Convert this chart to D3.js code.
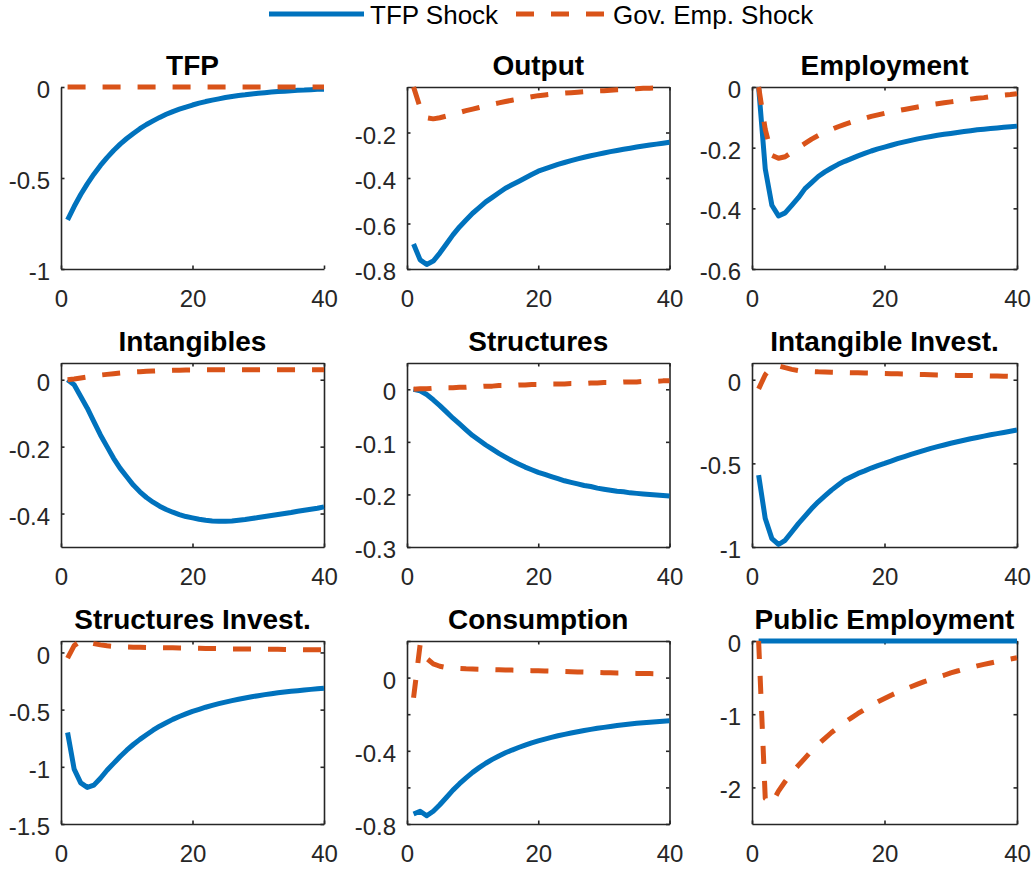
<!DOCTYPE html>
<html>
<head>
<meta charset="utf-8">
<script src="https://cdn.jsdelivr.net/npm/d3@7"></script>
<style>
    html, body { margin: 0; padding: 0; background: #fff; }
    svg { display: block; }
</style>
</head>
<body>
<div id="chart"></div>
<script>
;(function () {
    "use strict";

    // horizon (quarters)
    var periods = [1, 2, 3, 4, 5, 6, 7, 8, 9, 10, 11, 12, 13, 14, 15, 16, 17, 18, 19, 20,
                   21, 22, 23, 24, 25, 26, 27, 28, 29, 30, 31, 32, 33, 34, 35, 36, 37, 38, 39, 40];
    var xTicks = [0, 20, 40];
    var seriesNames = ["TFP Shock", "Gov. Emp. Shock"];
    var panelTitles = ["TFP", "Output", "Employment", "Intangibles", "Structures",
                       "Intangible Invest.", "Structures Invest.", "Consumption", "Public Employment"];

    // TFP shock responses
    var tfpTFP = [-0.73, -0.657, -0.591, -0.532, -0.479, -0.431, -0.388, -0.349, -0.314, -0.283, -0.255, -0.229, -0.206, -0.186, -0.167, -0.15, -0.135, -0.122, -0.11, -0.099,
                  -0.089, -0.08, -0.072, -0.065, -0.058, -0.052, -0.047, -0.043, -0.038, -0.034, -0.031, -0.028, -0.025, -0.023, -0.02, -0.018, -0.017, -0.015, -0.013, -0.012];
    var tfpOutput = [-0.69, -0.76, -0.78, -0.765, -0.73, -0.69, -0.65, -0.615, -0.585, -0.555, -0.53, -0.505, -0.485, -0.465, -0.445, -0.43, -0.415, -0.4, -0.385, -0.37,
                     -0.36, -0.35, -0.34, -0.332, -0.324, -0.316, -0.309, -0.302, -0.296, -0.29, -0.284, -0.279, -0.274, -0.269, -0.264, -0.259, -0.255, -0.251, -0.247, -0.243];
    var tfpEmployment = [0, -0.27, -0.39, -0.425, -0.415, -0.39, -0.365, -0.335, -0.315, -0.295, -0.28, -0.267, -0.255, -0.245, -0.236, -0.227, -0.219, -0.211, -0.204, -0.198,
                         -0.192, -0.186, -0.181, -0.176, -0.171, -0.167, -0.163, -0.159, -0.156, -0.153, -0.15, -0.147, -0.144, -0.141, -0.139, -0.137, -0.135, -0.133, -0.131, -0.129];
    var tfpIntangibles = [0, -0.015, -0.05, -0.085, -0.125, -0.165, -0.2, -0.235, -0.265, -0.29, -0.315, -0.335, -0.352, -0.366, -0.378, -0.388, -0.396, -0.403, -0.409, -0.413,
                          -0.417, -0.42, -0.422, -0.423, -0.423, -0.422, -0.42, -0.418, -0.415, -0.412, -0.409, -0.406, -0.403, -0.4, -0.397, -0.393, -0.39, -0.387, -0.384, -0.38];
    var tfpStructures = [0, -0.003, -0.01, -0.02, -0.031, -0.043, -0.055, -0.066, -0.077, -0.088, -0.097, -0.106, -0.114, -0.122, -0.129, -0.136, -0.142, -0.148, -0.153, -0.158,
                         -0.162, -0.166, -0.17, -0.174, -0.177, -0.18, -0.183, -0.185, -0.188, -0.19, -0.192, -0.194, -0.195, -0.197, -0.198, -0.199, -0.2, -0.201, -0.202, -0.203];
    var tfpIntInvest = [-0.57, -0.83, -0.95, -0.985, -0.96, -0.91, -0.86, -0.815, -0.77, -0.73, -0.695, -0.66, -0.63, -0.6, -0.58, -0.56, -0.545, -0.528, -0.513, -0.5,
                        -0.486, -0.472, -0.459, -0.446, -0.434, -0.422, -0.41, -0.4, -0.39, -0.38, -0.371, -0.362, -0.353, -0.345, -0.337, -0.329, -0.322, -0.315, -0.308, -0.301];
    var tfpStrInvest = [-0.7, -1.02, -1.14, -1.18, -1.16, -1.1, -1.03, -0.97, -0.91, -0.855, -0.805, -0.76, -0.72, -0.68, -0.645, -0.615, -0.585, -0.56, -0.537, -0.515,
                        -0.497, -0.479, -0.463, -0.448, -0.434, -0.421, -0.409, -0.398, -0.388, -0.378, -0.369, -0.361, -0.353, -0.346, -0.34, -0.334, -0.328, -0.323, -0.318, -0.313];
    var tfpConsumption = [-0.745, -0.73, -0.755, -0.73, -0.695, -0.655, -0.615, -0.58, -0.548, -0.518, -0.492, -0.468, -0.447, -0.428, -0.411, -0.396, -0.382, -0.369, -0.357, -0.346,
                          -0.336, -0.327, -0.318, -0.31, -0.303, -0.296, -0.289, -0.283, -0.277, -0.272, -0.267, -0.262, -0.258, -0.254, -0.25, -0.247, -0.244, -0.241, -0.238, -0.236];
    var tfpPublicEmp = [0, 0, 0, 0, 0, 0, 0, 0, 0, 0, 0, 0, 0, 0, 0, 0, 0, 0, 0, 0,
                        0, 0, 0, 0, 0, 0, 0, 0, 0, 0, 0, 0, 0, 0, 0, 0, 0, 0, 0, 0];

    // government employment shock responses
    var govTFP = [0, 0, 0, 0, 0, 0, 0, 0, 0, 0, 0, 0, 0, 0, 0, 0, 0, 0, 0, 0,
                  0, 0, 0, 0, 0, 0, 0, 0, 0, 0, 0, 0, 0, 0, 0, 0, 0, 0, 0, 0];
    var govOutput = [0, -0.09, -0.135, -0.14, -0.135, -0.128, -0.12, -0.112, -0.104, -0.097, -0.09, -0.083, -0.076, -0.07, -0.064, -0.058, -0.053, -0.048, -0.043, -0.038,
                     -0.035, -0.032, -0.029, -0.027, -0.025, -0.023, -0.021, -0.019, -0.017, -0.016, -0.014, -0.012, -0.011, -0.009, -0.008, -0.006, -0.005, -0.004, -0.002, -0.001];
    var govEmployment = [0, -0.14, -0.225, -0.235, -0.23, -0.215, -0.2, -0.186, -0.172, -0.16, -0.15, -0.14, -0.131, -0.123, -0.116, -0.109, -0.103, -0.097, -0.092, -0.087,
                         -0.082, -0.078, -0.074, -0.07, -0.066, -0.062, -0.058, -0.055, -0.052, -0.049, -0.046, -0.043, -0.04, -0.037, -0.035, -0.032, -0.03, -0.027, -0.025, -0.022];
    var govIntangibles = [0, 0.002, 0.005, 0.008, 0.011, 0.014, 0.016, 0.018, 0.02, 0.021, 0.023, 0.024, 0.025, 0.026, 0.027, 0.027, 0.028, 0.028, 0.029, 0.029,
                          0.029, 0.03, 0.03, 0.03, 0.03, 0.03, 0.03, 0.03, 0.03, 0.03, 0.03, 0.03, 0.03, 0.03, 0.03, 0.03, 0.03, 0.03, 0.03, 0.03];
    var govStructures = [0, 0.001, 0.001, 0.002, 0.002, 0.003, 0.003, 0.004, 0.004, 0.005, 0.005, 0.006, 0.006, 0.007, 0.007, 0.007, 0.008, 0.008, 0.009, 0.009,
                         0.009, 0.01, 0.01, 0.01, 0.011, 0.011, 0.011, 0.012, 0.012, 0.013, 0.013, 0.013, 0.014, 0.014, 0.014, 0.015, 0.015, 0.015, 0.016, 0.016];
    var govIntInvest = [-0.055, 0.03, 0.08, 0.083, 0.072, 0.062, 0.055, 0.051, 0.049, 0.047, 0.046, 0.045, 0.044, 0.043, 0.042, 0.041, 0.04, 0.039, 0.038, 0.037,
                        0.036, 0.035, 0.034, 0.033, 0.032, 0.031, 0.03, 0.029, 0.028, 0.027, 0.026, 0.025, 0.025, 0.024, 0.023, 0.022, 0.022, 0.021, 0.02, 0.02];
    var govStrInvest = [-0.05, 0.06, 0.1, 0.09, 0.077, 0.066, 0.058, 0.053, 0.05, 0.048, 0.046, 0.045, 0.044, 0.043, 0.042, 0.041, 0.04, 0.039, 0.038, 0.037,
                        0.036, 0.035, 0.034, 0.033, 0.032, 0.031, 0.031, 0.03, 0.029, 0.029, 0.028, 0.027, 0.027, 0.026, 0.025, 0.025, 0.024, 0.024, 0.023, 0.023];
    var govConsumption = [-0.11, 0.18, 0.105, 0.075, 0.062, 0.055, 0.052, 0.05, 0.048, 0.047, 0.046, 0.045, 0.044, 0.043, 0.042, 0.041, 0.04, 0.039, 0.038, 0.037,
                          0.036, 0.035, 0.034, 0.033, 0.032, 0.031, 0.03, 0.029, 0.028, 0.027, 0.026, 0.025, 0.025, 0.024, 0.023, 0.022, 0.022, 0.021, 0.021, 0.02];
    var govPublicEmp = [0, -2.15, -2.22, -2.05, -1.92, -1.8, -1.7, -1.6, -1.5, -1.41, -1.33, -1.25, -1.18, -1.11, -1.05, -0.99, -0.935, -0.88, -0.83, -0.785,
                        -0.74, -0.7, -0.66, -0.625, -0.59, -0.555, -0.525, -0.495, -0.468, -0.435, -0.41, -0.385, -0.362, -0.34, -0.32, -0.3, -0.281, -0.263, -0.246, -0.23];

    // y axis limits, tick marks and labelled ticks per panel
    var yLimits = [[-1, 0], [-0.8, 0], [-0.6, 0], [-0.5, 0.05], [-0.3, 0.05], [-1, 0.1], [-1.5, 0.1], [-0.8, 0.2], [-2.5, 0]];
    var yTicks = [[-1, -0.5, 0], [-0.8, -0.6, -0.4, -0.2], [-0.6, -0.4, -0.2, 0], [-0.4, -0.2, 0], [-0.3, -0.2, -0.1, 0],
                  [-1, -0.5, 0], [-1.5, -1, -0.5, 0], [-0.8, -0.6, -0.4, -0.2, 0, 0.2], [-2, -1, 0]];
    var yLabels = [[-1, -0.5, 0], [-0.8, -0.6, -0.4, -0.2], [-0.6, -0.4, -0.2, 0], [-0.4, -0.2, 0], [-0.3, -0.2, -0.1, 0],
                   [-1, -0.5, 0], [-1.5, -1, -0.5, 0], [-0.8, -0.4, 0], [-2, -1, 0]];

    var tfpSeries = [tfpTFP, tfpOutput, tfpEmployment, tfpIntangibles, tfpStructures, tfpIntInvest, tfpStrInvest, tfpConsumption, tfpPublicEmp];
    var govSeries = [govTFP, govOutput, govEmployment, govIntangibles, govStructures, govIntInvest, govStrInvest, govConsumption, govPublicEmp];

    var colors = ["#0072BD", "#D95319"];
    var axisColor = "#262626";
    var font = "'Liberation Sans', Arial, Helvetica, sans-serif";

    // subplot frame positions (pixels)
    var colLeft = [61, 407, 752], colRight = [324, 669.5, 1017];
    var rowTop = [87, 363, 641], rowBottom = [269, 547, 824];

    var svg = d3.select("#chart").append("svg")
        .attr("width", 1032)
        .attr("height", 869)
        .style("font-family", font);

    function styleAxis(sel) {
        sel.attr("font-family", font).attr("font-size", 24);
        sel.selectAll(".domain, .tick line")
            .attr("stroke", axisColor)
            .attr("stroke-width", 1.6);
        sel.selectAll(".tick text").attr("fill", axisColor);
    }

    function blank() { return ""; }

    panelTitles.forEach(function (title, i) {
        var col = i % 3, row = Math.floor(i / 3);
        var w = colRight[col] - colLeft[col];
        var h = rowBottom[row] - rowTop[row];
        var boxOn = i !== 0;   // TFP panel has no box in the original
        var labels = yLabels[i];

        var g = svg.append("g")
            .attr("transform", "translate(" + colLeft[col] + "," + rowTop[row] + ")");

        var x = d3.scaleLinear().domain([0, 40]).range([0, w]);
        var y = d3.scaleLinear().domain(yLimits[i]).range([h, 0]);

        g.append("g")
            .attr("transform", "translate(0," + h + ")")
            .call(d3.axisBottom(x).tickValues(xTicks).tickSizeInner(-3.5).tickSizeOuter(0).tickPadding(21))
            .call(styleAxis);

        var left = g.append("g")
            .call(d3.axisLeft(y).tickValues(yTicks[i]).tickSizeInner(-3.5).tickSizeOuter(0).tickPadding(11)
                .tickFormat(function (d) { return labels.indexOf(d) >= 0 ? String(d) : ""; }))
            .call(styleAxis);
        left.selectAll(".tick text").attr("dy", "0.44em");

        if (boxOn) {
            g.append("g")
                .call(d3.axisTop(x).tickValues(xTicks).tickSizeInner(-3.5).tickSizeOuter(0).tickFormat(blank))
                .call(styleAxis);
            g.append("g")
                .attr("transform", "translate(" + w + ",0)")
                .call(d3.axisRight(y).tickValues(yTicks[i]).tickSizeInner(-3.5).tickSizeOuter(0).tickFormat(blank))
                .call(styleAxis);
        }

        var line = d3.line()
            .x(function (d, k) { return x(periods[k]); })
            .y(function (d) { return y(d); });

        g.append("path")
            .datum(tfpSeries[i])
            .attr("d", line)
            .attr("fill", "none")
            .attr("stroke", colors[0])
            .attr("stroke-width", 5)
            .attr("stroke-linejoin", "round");

        g.append("path")
            .datum(govSeries[i])
            .attr("d", line)
            .attr("fill", "none")
            .attr("stroke", colors[1])
            .attr("stroke-width", 5)
            .attr("stroke-dasharray", "18,17")
            .attr("stroke-linejoin", "round");

        g.append("text")
            .attr("x", w / 2)
            .attr("y", -12)
            .attr("text-anchor", "middle")
            .attr("font-size", 28)
            .attr("font-weight", "bold")
            .attr("fill", "#000")
            .text(title);
    });

    // legend across the top
    var legend = svg.append("g").attr("font-size", 26).attr("fill", "#000");
    var legendItems = [
        { x0: 269, x1: 364, tx: 370, dash: null },
        { x0: 516, x1: 604, tx: 613, dash: "18,17" }
    ];
    legendItems.forEach(function (it, k) {
        legend.append("line")
            .attr("x1", it.x0).attr("x2", it.x1)
            .attr("y1", 14).attr("y2", 14)
            .attr("stroke", colors[k])
            .attr("stroke-width", 5)
            .attr("stroke-dasharray", it.dash);
        legend.append("text")
            .attr("x", it.tx)
            .attr("y", 24)
            .text(seriesNames[k]);
    });

}());
</script>
</body>
</html>
